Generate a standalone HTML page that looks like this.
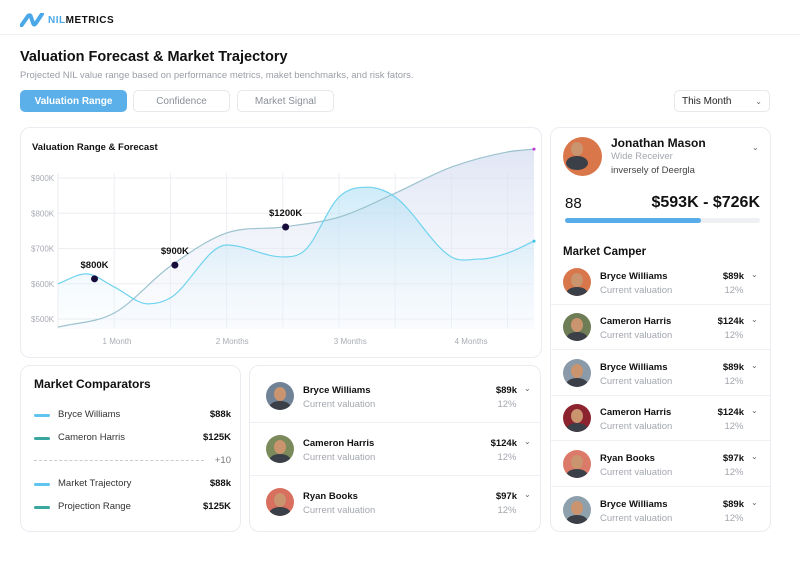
<!DOCTYPE html>
<html><head><meta charset="utf-8">
<style>
*{margin:0;padding:0;box-sizing:border-box}
body{width:800px;height:569px;background:#fff;font-family:"Liberation Sans",sans-serif;position:relative;overflow:hidden;color:#111}
.a{position:absolute;white-space:nowrap}
.card{position:absolute;border:1px solid #e9ecf1;border-radius:10px;background:#fff}
.tab{position:absolute;top:90px;height:22px;border:1px solid #e6e8ec;border-radius:5px;font-size:10px;color:#8a8f98;display:flex;align-items:center;justify-content:center}
.av{position:absolute;width:28px;height:28px;border-radius:50%;overflow:hidden}
.av::before{content:"";position:absolute;left:8px;top:5px;width:12px;height:14px;border-radius:50%;background:#c9946e}
.av::after{content:"";position:absolute;left:3px;top:19px;width:22px;height:14px;border-radius:50%;background:#3b3f47}
.nm{font-size:9.5px;font-weight:bold}
.sub{font-size:9.5px;color:#a3a7ae}
.val{font-size:9.5px;font-weight:bold;text-align:right}
.pct{font-size:9.5px;color:#a3a7ae;text-align:center}
.chev{font-size:8px;color:#666}
.sep{position:absolute;height:1px;background:#eef0f3}
</style></head><body>
<div class="a" style="left:20px;top:12px;height:16px;display:flex;align-items:center">
<svg width="24" height="14" viewBox="0 0 24 14"><path d="M1 13 L8 3 Q10 1 11 4 L13 10 Q14 13 16 10 L22 1" stroke="#4aa8e8" stroke-width="4" fill="none" stroke-linecap="round"/></svg>
<span style="font-size:10px;font-weight:bold;letter-spacing:0.5px;margin-left:4px"><span style="color:#4aa8e8">NIL</span>METRICS</span></div>
<div class="a" style="left:0;top:34px;width:800px;height:1px;background:#eef0f3"></div>
<div class="a" style="left:20px;top:49px;font-size:14.5px;font-weight:bold">Valuation Forecast &amp; Market Trajectory</div>
<div class="a" style="left:20px;top:70px;font-size:9.5px;color:#9a9ea6">Projected NIL value range based on performance metrics, maket benchmarks, and risk fators.</div>
<div class="tab" style="left:20px;width:107px;background:#5cb0ea;border-color:#5cb0ea;color:#fff;font-weight:bold">Valuation Range</div>
<div class="tab" style="left:133px;width:97px">Confidence</div>
<div class="tab" style="left:237px;width:97px">Market Signal</div>
<div class="tab" style="left:674px;width:96px;justify-content:space-between;padding:0 7px;color:#222">This Month<span class="chev">⌄</span></div>

<div class="card" style="left:20px;top:127px;width:522px;height:231px"></div>
<div class="a" style="left:32px;top:142px;font-size:9.5px;font-weight:bold">Valuation Range &amp; Forecast</div>
<svg class="a" id="chart" style="left:0;top:0" width="800" height="569"></svg>

<div class="card" style="left:20px;top:365px;width:221px;height:167px"></div>
<div class="a" style="left:34px;top:377px;font-size:12px;font-weight:bold">Market Comparators</div>
<div id="comp"></div>

<div class="card" style="left:249px;top:365px;width:292px;height:167px"></div>
<div class="card" style="left:550px;top:127px;width:221px;height:405px"></div>
<div class="av" style="left:563px;top:137px;width:39px;height:39px;background:#d9774a"></div>
<div class="a nm" style="left:611px;top:136px;font-size:12px">Jonathan Mason</div>
<div class="a sub" style="left:611px;top:151px">Wide Receiver</div>
<div class="a" style="left:611px;top:165px;font-size:9.5px;color:#444">inversely of Deergla</div>
<div class="a chev" style="left:752px;top:143px">⌄</div>
<div class="a" style="left:565px;top:195px;font-size:15px">88</div>
<div class="a" style="left:640px;width:120px;text-align:right;top:194px;font-size:16px;font-weight:bold">$593K - $726K</div>
<div class="a" style="left:565px;top:218px;width:195px;height:5px;border-radius:3px;background:#eef0f4"></div>
<div class="a" style="left:565px;top:218px;width:136px;height:5px;border-radius:3px;background:#58acea"></div>
<div class="a" style="left:563px;top:246px;font-size:11.5px;font-weight:bold">Market Camper</div>
<div id="lists"></div>

<script>
// chart data
const xs = [0,1,2,3,4,5,6,7,8,8.47];
const rangeVals = [477,517,650,744,761,789,857,931,974,982];
const trajX = [0,0.5,1,1.6,2,3,4,4.4,5,5.5,6,7,7.5,8,8.47];
const trajVals = [600,628,591,543,560,710,676,696,846,874,846,676,670,687,721];
const yTicks = [900,800,700,600,500];
const yTickLabels = ['$900K','$800K','$700K','$600K','$500K'];
const monthLabels = ['1 Month','2 Months','3 Months','4 Months'];
const monthPos = [1.05,3.1,5.2,7.35];
const annX = [0.65,2.08,4.05];
const annVals = [614,653,761];
const annLabels = ['$800K','$900K','$1200K'];

const X = t => 58 + t*56.2;
const Y = v => 178 + (900 - v)*0.3525;
const svg = document.getElementById('chart');
const NS = 'http://www.w3.org/2000/svg';
function mk(tag, attrs){const e=document.createElementNS(NS,tag);for(const k in attrs)e.setAttribute(k,attrs[k]);svg.appendChild(e);return e;}
function smooth(px,py){
  const n=px.length,d=[],m=[];
  for(let i=0;i<n-1;i++)d.push((py[i+1]-py[i])/(px[i+1]-px[i]));
  for(let i=0;i<n;i++){if(i==0)m.push(d[0]);else if(i==n-1)m.push(d[n-2]);else m.push(d[i-1]*d[i]<=0?0:(d[i-1]+d[i])/2);}
  let s='M'+px[0]+','+py[0];
  for(let i=0;i<n-1;i++){const h=(px[i+1]-px[i])/3;s+=` C${px[i]+h},${py[i]+m[i]*h} ${px[i+1]-h},${py[i+1]-m[i+1]*h} ${px[i+1]},${py[i+1]}`;}
  return s;
}
const defs=mk('defs',{});
defs.innerHTML='<linearGradient id="gA" x1="0" y1="0" x2="0" y2="1"><stop offset="0" stop-color="#d3dbf0" stop-opacity="0.7"/><stop offset="1" stop-color="#f1f3fb" stop-opacity="0.25"/></linearGradient><linearGradient id="gB" x1="0" y1="0" x2="0" y2="1"><stop offset="0" stop-color="#a6dcf3" stop-opacity="0.55"/><stop offset="1" stop-color="#e8f5fc" stop-opacity="0.1"/></linearGradient>';
for(let i=0;i<=9;i++){const g=mk('line',{x1:X(i),x2:X(i),y1:173,y2:329,stroke:'#eceef2','stroke-width':1});
}
yTicks.forEach((v,i)=>{const g=mk('line',{x1:58,x2:534,y1:Y(v),y2:Y(v),stroke:'#eceef2'});

const t=mk('text',{x:31,y:Y(v)+3,'font-size':8,fill:'#a8acb4'});t.textContent=yTickLabels[i];
});
monthLabels.forEach((l,i)=>{const t=mk('text',{x:X(monthPos[i]),y:344,'font-size':8,fill:'#a8acb4','text-anchor':'middle'});t.textContent=l;
});
const ax=xs.map(X),ay=rangeVals.map(Y),bx=trajX.map(X),by=trajVals.map(Y);
const pa=smooth(ax,ay),pb=smooth(bx,by);
const fa=mk('path',{d:pa+` L${ax[ax.length-1]},329 L${ax[0]},329 Z`,fill:'url(#gA)'});

const fb=mk('path',{d:pb+` L${bx[bx.length-1]},329 L${bx[0]},329 Z`,fill:'url(#gB)'});

const la=mk('path',{d:pa,fill:'none',stroke:'#9cc3cf','stroke-width':1.2});

const lb=mk('path',{d:pb,fill:'none',stroke:'#6fd3ee','stroke-width':1.2});

const e1=mk('circle',{cx:ax[ax.length-1],cy:ay[ay.length-1],r:1.5,fill:'#c03bd6'});

const e2=mk('circle',{cx:bx[bx.length-1],cy:by[by.length-1],r:1.5,fill:'#36c3e6'});

annX.forEach((t,i)=>{
 const c=mk('circle',{cx:X(t),cy:Y(annVals[i]),r:3.5,fill:'#160a3a'});
 
 const tx=mk('text',{x:X(t),y:Y(annVals[i])-11,'font-size':9.5,'font-weight':'bold',fill:'#111','text-anchor':'middle'});tx.textContent=annLabels[i];
 
});

const comp=[['Bryce Williams','$88k','#5fc4f0',415],['Cameron Harris','$125K','#3aa6a0',438],['Market Trajectory','$88k','#5fc4f0',484],['Projection Range','$125K','#3aa6a0',507]];
let h='';
comp.forEach(c=>{h+=`<div class="a" style="left:34px;top:${c[3]-1}px;width:16px;height:3px;border-radius:2px;background:${c[2]}"></div>
<div class="a" style="left:58px;top:${c[3]-6}px;font-size:9.5px;color:#333">${c[0]}</div>
<div class="a" style="left:180px;width:51px;text-align:right;top:${c[3]-6}px;font-size:9.5px;font-weight:bold">${c[1]}</div>`;});
h+=`<div class="a" style="left:34px;top:460px;width:170px;border-top:1px dashed #c8ccd2"></div>
<div class="a" style="left:200px;width:31px;text-align:right;top:455px;font-size:9.5px;color:#777">+10</div>`;
document.getElementById('comp').innerHTML=h;

const mid=[['Bryce Williams','$89k','#6f8296',396],['Cameron Harris','$124k','#7a8a5a',449],['Ryan Books','$97k','#d9705f',502]];
const right=[['Bryce Williams','$89k','#d8774c',282],['Cameron Harris','$124k','#6e7d55',327],['Bryce Williams','$89k','#8a9aa8',373],['Cameron Harris','$124k','#8c2430',418],['Ryan Books','$97k','#dc7a6a',464],['Bryce Williams','$89k','#8fa0ad',510]];
let s='';
function row(r,ax,nx,vr,pc,cx,name){
 return `<div class="av" style="left:${ax}px;top:${r[3]-14}px;background:${r[2]}"></div>
<div class="a nm" style="left:${nx}px;top:${r[3]-11}px">${r[0]}</div>
<div class="a sub" style="left:${nx}px;top:${r[3]+3}px">Current valuation</div>
<div class="a val" style="left:${vr-50}px;width:50px;top:${r[3]-11}px">${r[1]}</div>
<div class="a pct" style="left:${pc-15}px;width:30px;top:${r[3]+3}px">12%</div>
<div class="a chev" style="left:${cx}px;top:${r[3]-12}px">⌄</div>`;}
mid.forEach((r,i)=>{s+=row(r,266,303,517,507,524,'mid-row');if(i<2)s+=`<div class="sep" style="left:250px;width:290px;top:${r[3]+26}px"></div>`;});
right.forEach((r,i)=>{s+=row(r,563,600,744,734,751,'camper-row');if(i<5)s+=`<div class="sep" style="left:551px;width:219px;top:${r[3]+22}px"></div>`;});
document.getElementById('lists').innerHTML=s;
</script>
</body></html>
